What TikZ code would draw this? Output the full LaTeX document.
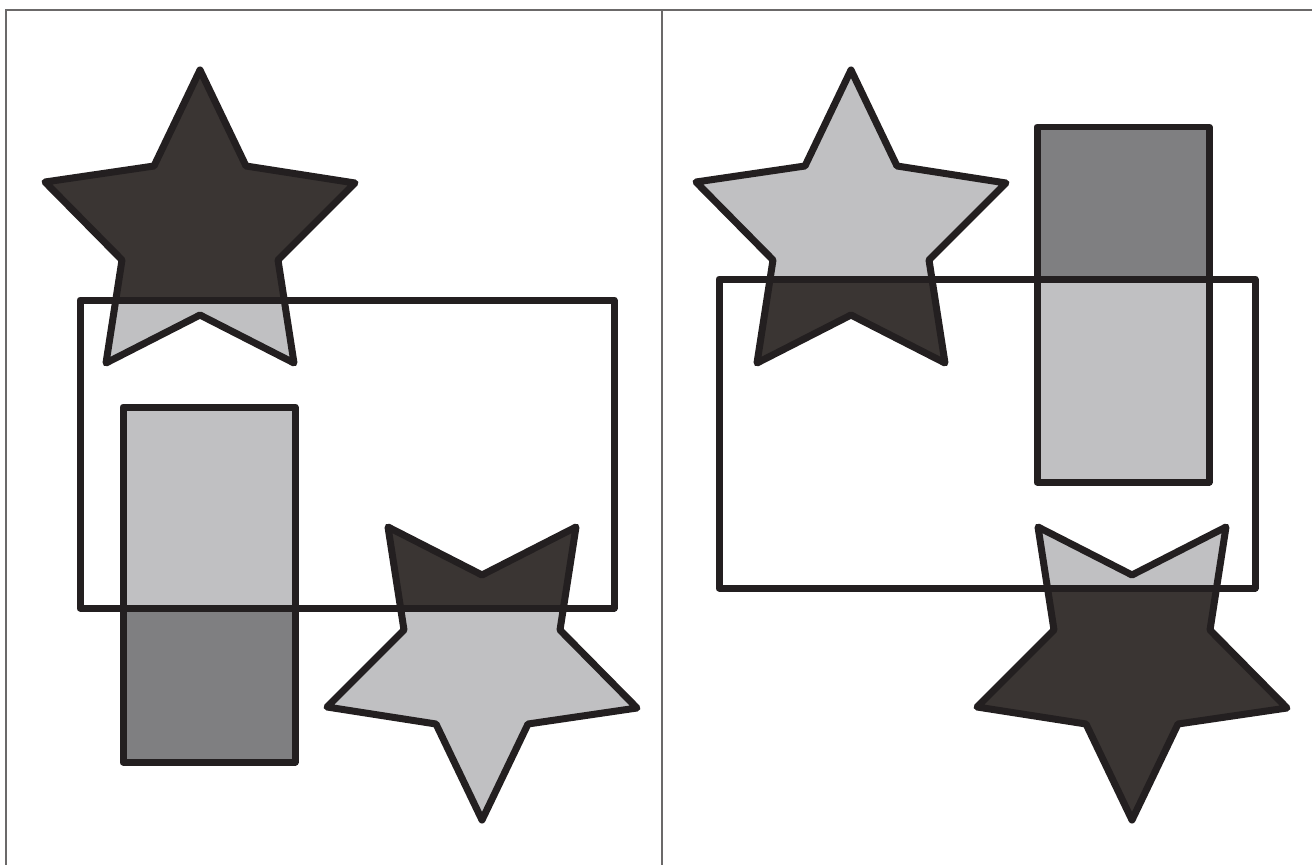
\documentclass[tikz,border=0pt]{standalone}
\usetikzlibrary{calc}
\definecolor{ink}  {HTML}{231F20}
\definecolor{dark} {HTML}{3A3533}
\definecolor{light}{HTML}{C0C0C2}
\definecolor{mid}  {HTML}{7F7F81}
\definecolor{rule} {HTML}{6B6969}
\tikzset{outline/.style={draw=ink, line width=0.14cm, line join=round}}
\def\starup{(200,70) -- (246,166) -- (355,183) -- (278,260) -- (294,363) -- (200,315) -- (106,363) -- (122,260) -- (45,182) -- (154,166) -- cycle}
\def\stardown{(482,820) -- (436,724) -- (327,707) -- (404,630) -- (388,527) -- (482,575) -- (576,527) -- (560,630) -- (637,708) -- (528,724) -- cycle}

\begin{document}
\begin{tikzpicture}[x=0.02cm, y=-0.02cm]
  \useasboundingbox (0,0) rectangle (1312,865);
  % frame
  \draw[rule, line width=0.04cm] (6,865) -- (6,10) -- (1312,10);
  \draw[rule, line width=0.04cm] (662,10) -- (662,865);

  % left panel
  \fill[dark] \starup;
  \begin{scope}
    \clip (80,300) rectangle (614,608);
    \fill[light] \starup;
  \end{scope}
  \draw[outline] \starup;
  \fill[mid] (123,407) rectangle (295,762);
  \fill[light] (123,407) rectangle (295,608);
  \draw[outline] (123,407) rectangle (295,762);
  \fill[light] \stardown;
  \begin{scope}
    \clip (80,300) rectangle (614,608);
    \fill[dark] \stardown;
  \end{scope}
  \draw[outline] \stardown;
  \draw[outline] (80,300) rectangle (614,608);

  % right panel
  \begin{scope}[shift={(651,0)}]
    \fill[light] \starup;
    \begin{scope}
      \clip (68,279) rectangle (604,588);
      \fill[dark] \starup;
    \end{scope}
    \draw[outline] \starup;
  \end{scope}
  \fill[mid] (1037,127) rectangle (1209,482);
  \fill[light] (1037,279) rectangle (1209,482);
  \draw[outline] (1037,127) rectangle (1209,482);
  \begin{scope}[shift={(650,0)}]
    \fill[dark] \stardown;
    \begin{scope}
      \clip (69,279) rectangle (605,588);
      \fill[light] \stardown;
    \end{scope}
    \draw[outline] \stardown;
  \end{scope}
  \draw[outline] (719,279) rectangle (1255,588);
\end{tikzpicture}
\end{document}
